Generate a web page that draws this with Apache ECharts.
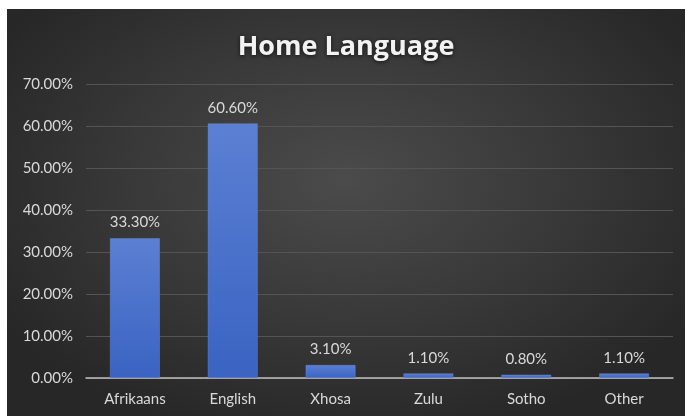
<!DOCTYPE html>
<html>
<head>
<meta charset="utf-8">
<script src="https://cdn.jsdelivr.net/npm/echarts@6/dist/echarts.min.js"></script>
<style>
  html, body { margin: 0; padding: 0; background: #ffffff; }
  #chart {
    position: absolute; left: 7px; top: 9px; width: 678px; height: 407px;
    background: radial-gradient(ellipse 60% 65% at 50% 42%, #4b4b4b 0%, #383838 55%, #272727 100%);
  }
</style>
</head>
<body>
<div id="chart"></div>
<script>
const categories = ['Afrikaans', 'English', 'Xhosa', 'Zulu', 'Sotho', 'Other'];
const shares = [33.3, 60.6, 3.1, 1.1, 0.8, 1.1];
const yTicks = { min: 0, max: 70, interval: 10 };

const chart = echarts.init(document.getElementById('chart'), null, { renderer: 'canvas' });
const labelFont = 'Lato, "Noto Sans", sans-serif';

chart.setOption({
  backgroundColor: 'transparent',
  animation: false,
  title: {
    text: 'Home Language',
    left: 'center',
    top: 20,
    textStyle: {
      color: '#f2f2f2',
      fontFamily: '"Open Sans", sans-serif',
      fontWeight: 'bold',
      fontSize: 27,
      textShadowColor: 'rgba(0,0,0,0.7)',
      textShadowBlur: 4,
      textShadowOffsetY: 1
    }
  },
  grid: { left: 79, right: 12, top: 75, bottom: 38, containLabel: false },
  xAxis: {
    type: 'category',
    data: categories,
    axisLine: { lineStyle: { color: '#bfbfbf', width: 1.5 } },
    axisTick: { show: false },
    axisLabel: { color: '#d9d9d9', fontSize: 15, fontFamily: labelFont, margin: 14 }
  },
  yAxis: {
    type: 'value',
    min: yTicks.min,
    max: yTicks.max,
    interval: yTicks.interval,
    axisLine: { show: false },
    axisTick: { show: false },
    splitLine: { lineStyle: { color: '#545454', width: 1 } },
    axisLabel: {
      color: '#d9d9d9', fontSize: 15, fontFamily: labelFont, margin: 13,
      formatter: v => v.toFixed(2) + '%'
    }
  },
  series: [{
    type: 'bar',
    data: shares,
    barWidth: '51%',
    itemStyle: {
      color: new echarts.graphic.LinearGradient(0, 0, 0, 1, [
        { offset: 0, color: '#5b80d3' },
        { offset: 1, color: '#3a63c2' }
      ]),
      borderColor: 'rgba(120,150,220,0.6)',
      borderWidth: 0.6
    },
    label: {
      show: true,
      position: 'top',
      distance: 8,
      color: '#d9d9d9',
      fontSize: 15,
      fontFamily: labelFont,
      formatter: p => p.value.toFixed(2) + '%'
    }
  }]
});
</script>
</body>
</html>
